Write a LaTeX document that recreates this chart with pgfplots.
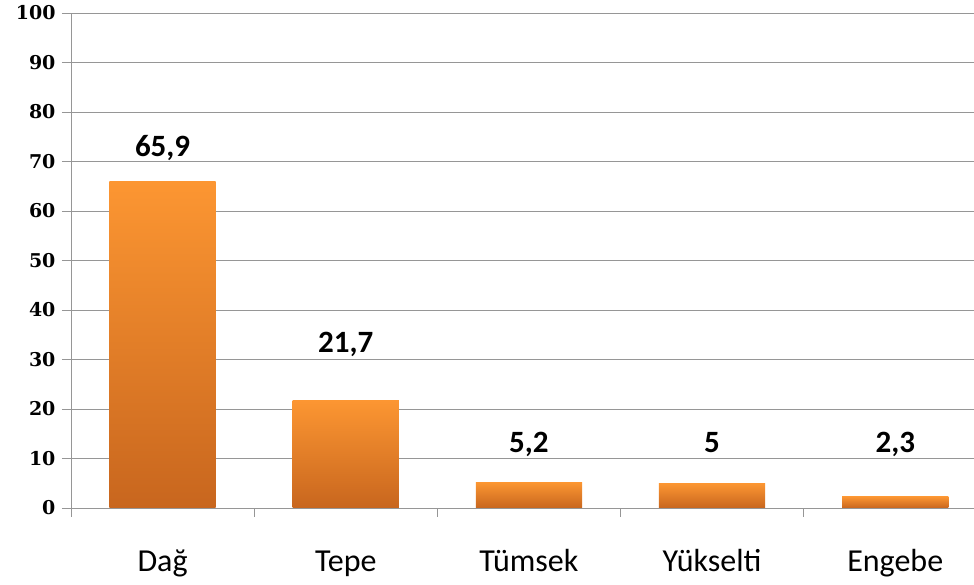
\documentclass[border=0pt]{standalone}
\usepackage{pgfplots}
\pgfplotsset{compat=1.18}
\usepackage{fontspec}
\setmainfont{Carlito}
\newfontfamily\tickfont{DejaVu Serif}
\definecolor{gridc}{RGB}{150,150,150}
\definecolor{bartop}{RGB}{252,150,50}
\definecolor{barbot}{RGB}{200,102,30}
\pgfplotsset{
  mybar/.style={draw=none, top color=bartop, bottom color=barbot,
    nodes near coords, point meta=explicit symbolic,
    every node near coord/.append style={anchor=base, inner sep=0pt, yshift=#1,
      font=\bfseries\fontsize{31}{31}\selectfont, text=black}},
}
\begin{document}
\begin{tikzpicture}
\begin{axis}[
  scale only axis, width=903pt, height=495pt,
  xmin=-0.5, xmax=4.43, ymin=0, ymax=100,
  ybar, bar width=0.58, bar shift=0pt,
  axis lines=left, axis line style={-, draw=gridc, line width=0.8pt},
  ytick={0,10,...,100}, ymajorgrids, grid style={draw=gridc, line width=0.8pt},
  xtick={0,...,4}, xticklabels={Dağ,Tepe,Tümsek,Yükselti,Engebe},
  minor xtick={-0.5,0.5,1.5,2.5,3.5},
  tick align=outside, major tick length=9pt, minor tick length=9pt,
  major x tick style={draw=none},
  minor x tick style={draw=gridc, line width=0.8pt},
  y tick style={draw=gridc, line width=0.8pt},
  /pgf/number format/assume math mode=true,
  yticklabel style={font=\tickfont\bfseries\fontsize{19}{19}\selectfont, xshift=-3pt},
  xticklabel style={font=\fontsize{32}{32}\selectfont, anchor=base, yshift=-55pt},
]
\addplot[mybar=25pt] coordinates {(0,65.9) [65,9]};
\addplot[mybar=48pt] coordinates {(1,21.7) [21,7]};
\addplot[mybar=30pt] coordinates {(2,5.2) [5,2]};
\addplot[mybar=31pt] coordinates {(3,5) [5]};
\addplot[mybar=44pt] coordinates {(4,2.3) [2,3]};
\end{axis}
\pgfresetboundingbox
\path (current axis.south west) ++(-71pt,-77pt) rectangle ++(974pt,585pt);
\end{tikzpicture}
\end{document}
